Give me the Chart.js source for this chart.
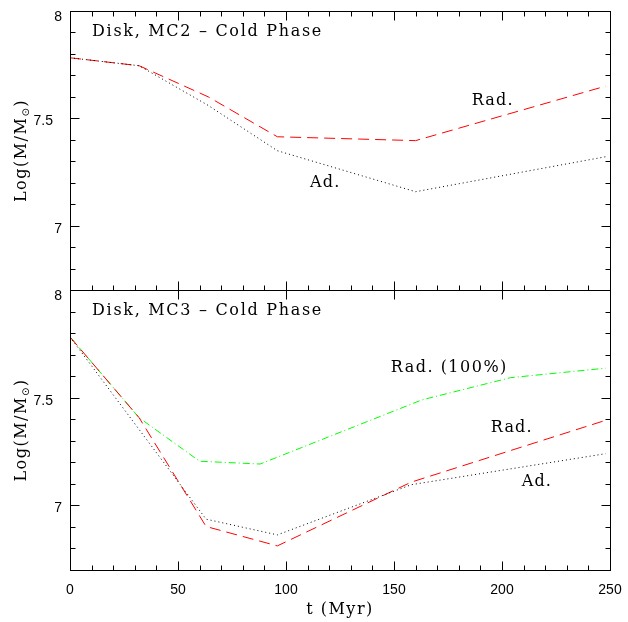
<!DOCTYPE html>
<html>
<head>
<meta charset="utf-8">
<script src="https://cdn.jsdelivr.net/npm/chart.js@4.4.1/dist/chart.umd.min.js"></script>
<style>
  html, body { margin: 0; padding: 0; background: #fff; }
  #wrap { position: relative; width: 628px; height: 622px; overflow: hidden; }
  .pane { position: absolute; left: 0; }
</style>
</head>
<body>
<div id="wrap">
  <div class="pane" style="top:0"><canvas id="mc2" width="628" height="300"></canvas></div>
  <div class="pane" style="top:279px"><canvas id="mc3" width="628" height="343"></canvas></div>
</div>
<script>
// Time axis (Myr) and cold-phase disk mass, Log(M/Msun)
const timeMc2 = [0, 32, 64, 96, 160, 248];
const mc2Radiative = [7.782, 7.745, 7.600, 7.414, 7.396, 7.650];
const mc2Adiabatic = [7.782, 7.745, 7.560, 7.349, 7.158, 7.321];

const timeMc3Full = [0, 32, 60, 88, 163, 204, 248];
const mc3Radiative100 = [7.782, 7.407, 7.205, 7.192, 7.490, 7.593, 7.637];
const timeMc3Rad = [0, 32, 63, 96, 158, 248];
const mc3Radiative = [7.782, 7.407, 6.902, 6.812, 7.108, 7.395];
const timeMc3Ad = [0, 63, 96, 158, 248];
const mc3Adiabatic = [7.782, 6.936, 6.863, 7.096, 7.240];

const xTickLabels = [0, 50, 100, 150, 200, 250];
const yTickLabels = [7, 7.5, 8];

const pts = (xs, ys) => xs.map((t, i) => ({ x: t, y: ys[i] }));

const SERIF = '16px "DejaVu Serif"';
const SANS = '14px "Liberation Sans"';

const styles = {
  rad:    { borderColor: '#ff0000', borderDash: [11, 6] },
  ad:     { borderColor: '#000000', borderDash: [1, 3] },
  rad100: { borderColor: '#00ff00', borderDash: [7, 3, 1, 3] }
};

function line(data, style) {
  return Object.assign({ data, borderWidth: 1, pointRadius: 0, fill: false, tension: 0 }, style);
}

// Frame, inward ticks, numbers, titles and curve labels for one panel
const panelDecor = {
  id: 'panelDecor',
  afterDraw(chart) {
    const o = chart.options.plugins.panelDecor;
    const { ctx, chartArea: a, scales: { x, y } } = chart;
    const c = v => Math.round(v) + 0.5;
    const L = c(a.left), R = c(a.right), T = c(a.top), B = c(a.bottom);
    ctx.save();
    ctx.strokeStyle = '#000';
    ctx.lineWidth = 1;
    ctx.setLineDash([]);
    ctx.strokeRect(L, T, R - L, B - T);
    ctx.beginPath();
    for (let i = 67; i <= 80; i++) {
      const yy = c(y.getPixelForValue(i / 10));
      const len = i % 5 === 0 ? 9 : 5;
      ctx.moveTo(L, yy); ctx.lineTo(L + len, yy);
      ctx.moveTo(R, yy); ctx.lineTo(R - len, yy);
    }
    for (let i = 0; i <= 25; i++) {
      const xx = c(x.getPixelForValue(i * 10));
      const major = i % 5 === 0;
      const len = major ? 9 : 5;
      if (o.topMinor || major) { ctx.moveTo(xx, T); ctx.lineTo(xx, T + len); }
      ctx.moveTo(xx, B); ctx.lineTo(xx, B - len);
    }
    ctx.stroke();

    // y numbers
    ctx.fillStyle = '#000';
    ctx.font = SANS;
    ctx.textAlign = 'right';
    ctx.textBaseline = 'alphabetic';
    yTickLabels.forEach(v => {
      const yy = y.getPixelForValue(v);
      const isInt = Number.isInteger(v);
      const xx = a.left - (isInt ? 8 : 17);
      ctx.fillText(String(v), xx, yy + (v === 8 ? 9.5 : 7));
    });

    // x numbers and axis title (bottom panel only)
    if (o.xLabels) {
      ctx.textAlign = 'center';
      xTickLabels.forEach(t => ctx.fillText(String(t), x.getPixelForValue(t), a.bottom + 24));
      ctx.font = SERIF;
      ctx.letterSpacing = '1.5px';
      ctx.fillText('t (Myr)', (a.left + a.right) / 2, a.bottom + 44);
    }

    // rotated y-axis title Log(M/M_sun)
    ctx.save();
    ctx.translate(a.left - 48, (a.top + a.bottom) / 2);
    ctx.rotate(-Math.PI / 2);
    ctx.textAlign = 'left';
    ctx.textBaseline = 'middle';
    ctx.letterSpacing = '1.5px';
    ctx.font = SERIF;
    const p1 = 'Log(M/M', p3 = ')';
    const w1 = ctx.measureText(p1).width;
    const w3 = ctx.measureText(p3).width;
    ctx.font = '10px "DejaVu Sans"';
    const w2 = ctx.measureText('\u2299').width;
    const total = w1 + w2 + w3;
    let cx = -total / 2;
    ctx.font = SERIF;
    ctx.fillText(p1, cx, 0); cx += w1;
    ctx.font = '10px "DejaVu Sans"';
    ctx.fillText('\u2299', cx, 4); cx += w2;
    ctx.font = SERIF;
    ctx.fillText(p3, cx, 0);
    ctx.restore();

    // panel title and curve labels, anchored in data coordinates
    ctx.textAlign = 'left';
    ctx.textBaseline = 'alphabetic';
    ctx.font = SERIF;
    o.texts.forEach(tx => {
      ctx.letterSpacing = tx.spacing;
      ctx.fillText(tx.text, x.getPixelForValue(tx.t), y.getPixelForValue(tx.v));
    });
    ctx.restore();
  }
};

function makePanel(id, datasets, decor, padding) {
  return new Chart(document.getElementById(id), {
    type: 'line',
    data: { datasets },
    options: {
      responsive: false,
      animation: false,
      devicePixelRatio: 1,
      layout: { padding },
      scales: {
        x: { type: 'linear', min: 0, max: 250, display: false },
        y: { type: 'linear', min: 6.7, max: 8, display: false }
      },
      plugins: {
        legend: { display: false },
        tooltip: { enabled: false },
        panelDecor: decor
      }
    },
    plugins: [panelDecor]
  });
}

makePanel('mc2', [
  line(pts(timeMc2, mc2Adiabatic), styles.ad),
  line(pts(timeMc2, mc2Radiative), styles.rad)
], {
  topMinor: true,
  xLabels: false,
  texts: [
    { text: 'Disk, MC2 \u2013 Cold Phase', t: 10.2, v: 7.884, spacing: '1.7px' },
    { text: 'Rad.', t: 186, v: 7.562, spacing: '1.2px' },
    { text: 'Ad.', t: 111.1, v: 7.178, spacing: '1.2px' }
  ]
}, { left: 70, right: 18, top: 11, bottom: 10 });

makePanel('mc3', [
  line(pts(timeMc3Ad, mc3Adiabatic), styles.ad),
  line(pts(timeMc3Rad, mc3Radiative), styles.rad),
  line(pts(timeMc3Full, mc3Radiative100), styles.rad100)
], {
  topMinor: false,
  xLabels: true,
  texts: [
    { text: 'Disk, MC3 \u2013 Cold Phase', t: 10.2, v: 7.884, spacing: '1.7px' },
    { text: 'Rad. (100%)', t: 148.5, v: 7.619, spacing: '1.5px' },
    { text: 'Rad.', t: 194.8, v: 7.340, spacing: '1.2px' },
    { text: 'Ad.', t: 209.1, v: 7.088, spacing: '1.2px' }
  ]
}, { left: 70, right: 18, top: 11, bottom: 52 });
</script>
</body>
</html>
